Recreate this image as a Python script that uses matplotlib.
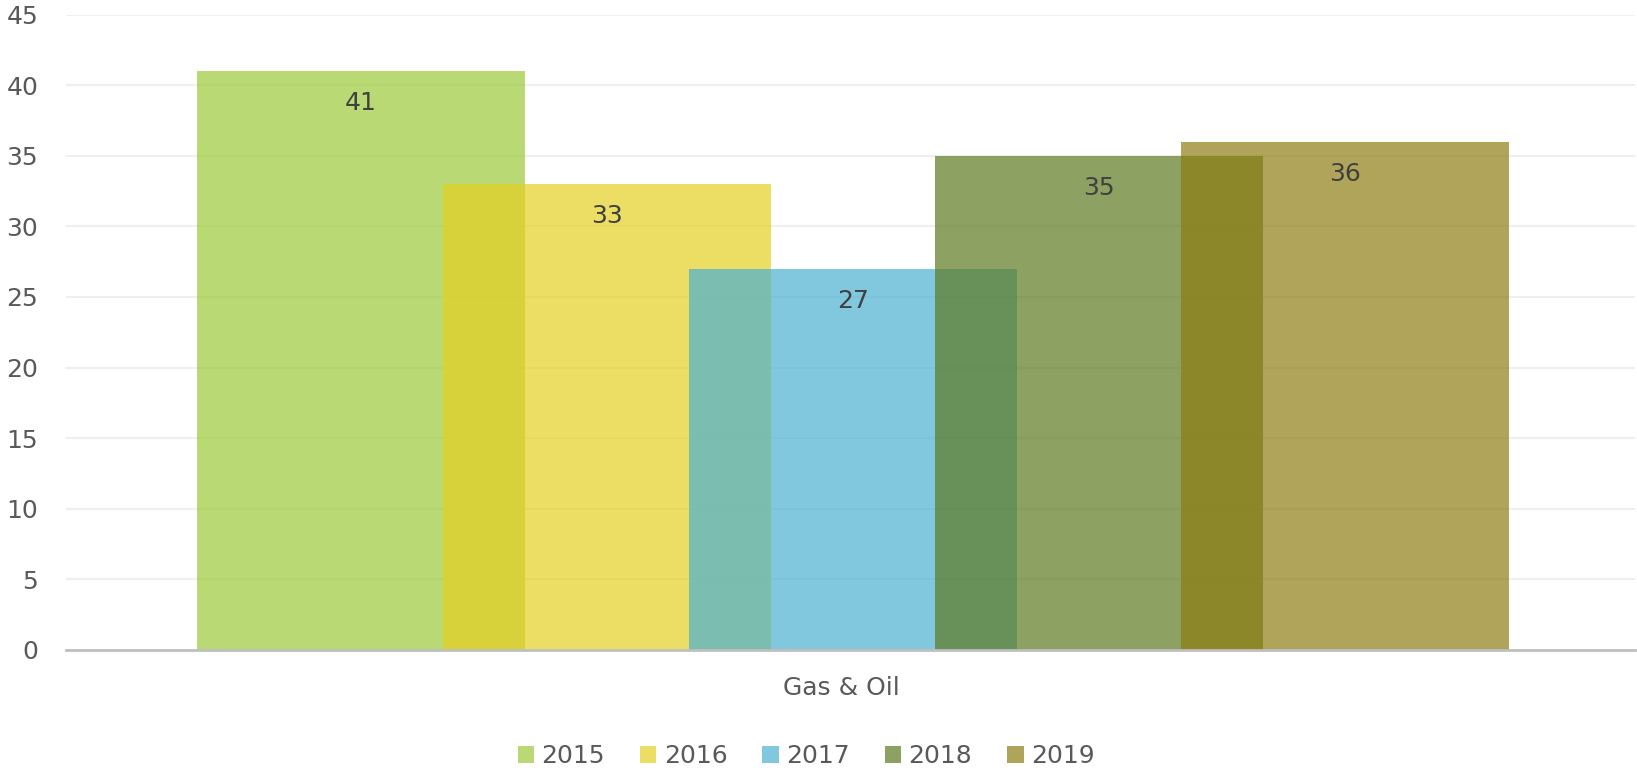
import matplotlib
matplotlib.use("Agg")
import matplotlib.pyplot as plt
from matplotlib.transforms import ScaledTranslation
import numpy as np

categories = ["Gas & Oil"]
years = ["2015", "2016", "2017", "2018", "2019"]
values = [41, 33, 27, 35, 36]
colors = ["#9ACA38", "#E5D022", "#4CB0D0", "#5C7A1F", "#8D7E13"]
yticks = [0, 5, 10, 15, 20, 25, 30, 35, 40, 45]

plt.rcParams['font.family'] = ['DejaVu Sans']
FS = 18

fig = plt.figure(figsize=(16.37, 7.70), dpi=100)
ax = fig.add_axes([0.0403, 0.156, 0.9587, 0.825])

x = np.arange(len(categories))
n = len(years)
spacing = 1.0
width = 1.333
handles = []
for i, (yr, v, c) in enumerate(zip(years, values, colors)):
    pos = x + (i - (n - 1) / 2) * spacing
    b = ax.bar(pos, [v], width=width, color=c, alpha=0.7, label=yr, zorder=2, linewidth=0)
    handles.append(b)
    ax.annotate(str(v), xy=(pos[0], v), xytext=(0, -23), textcoords="offset points",
                ha="center", va="center", fontsize=FS, color="#404040", zorder=5)

ax.set_xlim(-3.2, 3.18)
ax.set_ylim(0, 45)
ax.set_yticks(yticks)
ax.set_yticklabels([str(t) for t in yticks], fontsize=FS, color="#595959")
ax.set_xticks(x)
ax.set_xticklabels(categories, fontsize=FS, color="#595959")
ax.tick_params(axis='both', length=0)
ax.tick_params(axis='y', pad=20)
ax.tick_params(axis='x', pad=19)
for lbl in ax.get_yticklabels():
    lbl.set_horizontalalignment('right')
for lbl in ax.get_xticklabels():
    lbl.set_transform(lbl.get_transform() + ScaledTranslation(-0.12, 0, fig.dpi_scale_trans))

ax.grid(axis='y', color="#EFEFEF", linewidth=1.5, zorder=0)
ax.set_axisbelow(True)
for s in ["top", "right", "left"]:
    ax.spines[s].set_visible(False)
ax.spines["bottom"].set_color("#BFBFBF")
ax.spines["bottom"].set_linewidth(2)
ax.spines["bottom"].set_zorder(3)

leg = fig.legend(handles=handles, labels=years, loc="center", bbox_to_anchor=(0.4925, 0.018),
                 ncol=5, frameon=False, fontsize=FS, handlelength=0.65, handleheight=0.65,
                 handletextpad=0.3, columnspacing=1.4, labelcolor="#595959")

fig.savefig("out.png", dpi=100)
